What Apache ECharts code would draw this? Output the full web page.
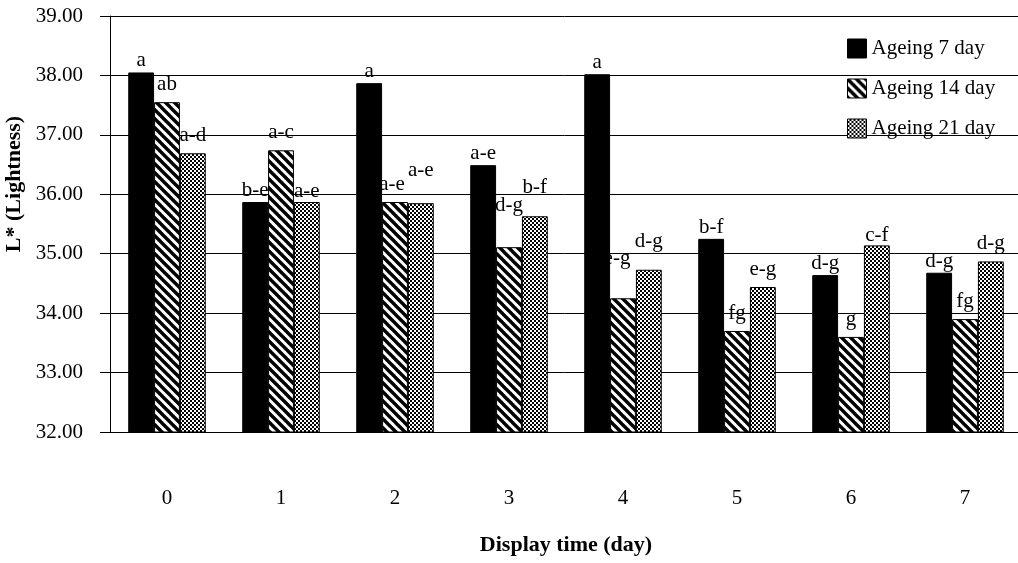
<!DOCTYPE html>
<html>
<head>
<meta charset="UTF-8"/>
<title>L* lightness</title>
<script src="https://cdn.jsdelivr.net/npm/echarts@6/dist/echarts.min.js"></script>
<style>
  html, body { margin: 0; padding: 0; background: #fff; }
  #main { width: 1018px; height: 563px; }
</style>
</head>
<body>
<div id="main"></div>
<script>
// data
var days = ['0', '1', '2', '3', '4', '5', '6', '7'];
var seriesNames = ['Ageing 7 day', 'Ageing 14 day', 'Ageing 21 day'];
var ageing7 = [38.05, 35.87, 37.87, 36.49, 38.02, 35.25, 34.64, 34.68];
var ageing14 = [37.55, 36.74, 35.87, 35.11, 34.25, 33.70, 33.60, 33.90];
var ageing21 = [36.69, 35.87, 35.85, 35.63, 34.73, 34.44, 35.14, 34.87];
var letters7 = ['a', 'b-e', 'a', 'a-e', 'a', 'b-f', 'd-g', 'd-g'];
var letters14 = ['ab', 'a-c', 'a-e', 'd-g', 'e-g', 'fg', 'g', 'fg'];
var letters21 = ['a-d', 'a-e', 'a-e', 'b-f', 'd-g', 'e-g', 'c-f', 'd-g'];

var serif = '"Liberation Serif", "DejaVu Serif", serif';

// labels that sit off their usual spot in the original: "series:index" -> [dx, dy]
var labelNudge = {
    '1:2': [-3, 0], '1:3': [0, -24], '1:4': [-6, -22],
    '2:1': [0, 7], '2:2': [0, -15], '2:3': [0, -11], '2:4': [0, -11], '2:6': [0, 8]
};
var labelDistance = [1, 7, 7];

// diagonal hatch  "\\\"
function hatchPattern() {
    var c = document.createElement('canvas');
    c.width = 9; c.height = 9;
    var ctx = c.getContext('2d');
    ctx.fillStyle = '#fff';
    ctx.fillRect(0, 0, 9, 9);
    ctx.strokeStyle = '#000';
    ctx.lineWidth = 3.4;
    for (var k = -9; k <= 9; k += 9) {
        ctx.beginPath();
        ctx.moveTo(k - 1, -1);
        ctx.lineTo(k + 10, 10);
        ctx.stroke();
    }
    return c;
}

// fine checkered fill
function checkPattern() {
    var c = document.createElement('canvas');
    c.width = 4; c.height = 4;
    var ctx = c.getContext('2d');
    ctx.fillStyle = '#000';
    ctx.fillRect(0, 0, 4, 4);
    ctx.fillStyle = '#fff';
    ctx.fillRect(0, 0, 2, 2);
    ctx.fillRect(2, 2, 2, 2);
    return c;
}

var fills = ['#000', { image: hatchPattern(), repeat: 'repeat' }, { image: checkPattern(), repeat: 'repeat' }];
var values = [ageing7, ageing14, ageing21];
var letters = [letters7, letters14, letters21];

var series = [];
for (var i = 0; i < 3; i++) {
    (function (idx) {
        var data = values[idx].map(function (v, j) {
            var n = labelNudge[idx + ':' + j];
            return n ? { value: v, label: { offset: n } } : v;
        });
        series.push({
            name: seriesNames[idx],
            type: 'bar',
            data: data,
            barGap: '0%',
            barCategoryGap: '32%',
            itemStyle: { color: fills[idx], borderColor: '#000', borderWidth: 1 },
            label: {
                show: true,
                position: 'top',
                distance: labelDistance[idx],
                color: '#000',
                fontFamily: serif,
                fontSize: 21,
                formatter: function (p) { return letters[idx][p.dataIndex]; }
            }
        });
    })(i);
}

var chart = echarts.init(document.getElementById('main'));
chart.setOption({
    animation: false,
    backgroundColor: '#fff',
    grid: { left: 110, right: -4, top: 16, bottom: 131, outerBoundsMode: 'none', containLabel: false },
    legend: {
        orient: 'vertical',
        left: 842,
        top: 33,
        icon: 'rect',
        itemWidth: 19,
        itemHeight: 19,
        itemGap: 19,
        itemStyle: { borderColor: '#000', borderWidth: 1 },
        textStyle: { fontFamily: serif, fontSize: 21, color: '#000' },
        data: seriesNames
    },
    xAxis: {
        type: 'category',
        data: days,
        name: 'Display time (day)',
        nameLocation: 'middle',
        nameGap: 102,
        nameTextStyle: { fontFamily: serif, fontSize: 22, fontWeight: 'bold', color: '#000' },
        axisLine: { show: true, lineStyle: { color: '#000', width: 1 } },
        axisTick: { show: false },
        axisLabel: { margin: 56, fontFamily: serif, fontSize: 21, color: '#000' }
    },
    yAxis: {
        type: 'value',
        min: 32,
        max: 39,
        interval: 1,
        name: 'L* (Lightness)',
        nameLocation: 'middle',
        nameGap: 81,
        nameTextStyle: { fontFamily: serif, fontSize: 22, fontWeight: 'bold', color: '#000', padding: [0, 0, 0, 80] },
        axisLine: { show: true, lineStyle: { color: '#000', width: 1 } },
        axisTick: { show: true, inside: false, length: 10, lineStyle: { color: '#000' } },
        axisLabel: {
            margin: 27,
            fontFamily: serif,
            fontSize: 21,
            color: '#000',
            formatter: function (v) { return v.toFixed(2); }
        },
        splitLine: { show: true, lineStyle: { color: '#000', width: 1 } }
    },
    series: series
});
</script>
</body>
</html>
